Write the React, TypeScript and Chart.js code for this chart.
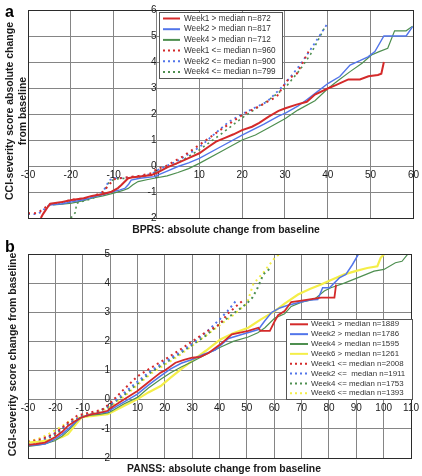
import React, { useEffect, useRef } from "react";
import { Chart, registerables } from "chart.js";

Chart.register(...registerables);

const FONT = "'Liberation Sans', Arial, Helvetica, sans-serif";

// ---------- Panel a (BPRS) ----------
const aXTicks = [-30, -20, -10, 0, 10, 20, 30, 40, 50, 60];
const aYTicks = [-2, -1, 0, 1, 2, 3, 4, 5, 6];

const aLabels = [
  "Week1 > median n=872",
  "Week2 > median n=817",
  "Week4 > median n=712",
  "Week1 <= median n=960",
  "Week2 <= median n=900",
  "Week4 <= median n=799",
];

const aW1GtX = [-27, -26.5, -25.5, -24.8, -22, -19.8, -17, -15.1, -12.5, -10.5, -9, -8.2, -6.6, -5.5, -4.3, -1.2, 0, 2.5, 5, 7.5, 10, 12, 13.9, 16, 18, 20, 22.3, 24, 26.2, 28.5, 30.1, 32.5, 35.1, 37, 40.1, 42, 44.8, 47.5, 49.5, 51.7, 52.5, 53.1];
const aW1GtY = [-2, -1.85, -1.6, -1.45, -1.38, -1.31, -1.24, -1.15, -1.08, -0.99, -0.85, -0.73, -0.47, -0.43, -0.41, -0.35, -0.27, -0.05, 0.12, 0.3, 0.49, 0.72, 0.94, 1.08, 1.22, 1.38, 1.51, 1.66, 1.9, 2.12, 2.22, 2.35, 2.47, 2.75, 2.99, 3.12, 3.33, 3.33, 3.45, 3.5, 3.55, 4.0];

const aW2GtX = [-25.2, -22, -19.8, -17, -14.4, -12, -10.3, -8.5, -7.4, -6.5, -5.9, -3.9, -0.5, 0, 2.5, 5, 7.5, 10, 15, 20, 25, 28.5, 30.1, 33, 35, 37.5, 40.1, 42.8, 45.2, 47.5, 49.4, 51, 53.1, 58.3, 59.8];
const aW2GtY = [-1.5, -1.45, -1.38, -1.3, -1.18, -1.08, -0.99, -0.92, -0.86, -0.7, -0.54, -0.47, -0.41, -0.37, -0.2, -0.02, 0.12, 0.29, 0.74, 1.19, 1.6, 1.92, 2.03, 2.3, 2.54, 2.85, 3.18, 3.44, 3.88, 4.05, 4.2, 4.4, 5.0, 5.0, 5.36];

const aW4GtX = [-24.1, -22, -19.8, -17, -15.1, -12.5, -10.2, -8, -6.6, -5.5, -4.3, -2, -0.5, 2.5, 5, 7.5, 10, 15, 20, 23.1, 26, 30.1, 33, 37, 40.1, 42.5, 45.2, 48, 50.2, 52, 54, 55.6, 58.3, 59.8];
const aW4GtY = [-1.5, -1.47, -1.43, -1.33, -1.24, -1.15, -1.05, -0.95, -0.86, -0.72, -0.6, -0.52, -0.47, -0.38, -0.25, -0.1, 0.1, 0.55, 1.0, 1.19, 1.45, 1.83, 2.15, 2.51, 2.99, 3.3, 3.63, 3.95, 4.27, 4.4, 4.53, 5.2, 5.2, 5.38];

const aW1LeX = [-30, -28.5, -27.5, -26, -25, -22, -20, -17, -15, -12.4, -11, -9.7, -7.5, -4, -1.2, 0, 2.25, 6.1, 10, 14.6, 20, 24, 28.1, 29.3, 30.9, 32.8, 35.5];
const aW1LeY = [-1.82, -1.82, -1.78, -1.6, -1.48, -1.4, -1.3, -1.25, -1.18, -0.99, -0.7, -0.5, -0.45, -0.38, -0.28, -0.12, 0, 0.36, 0.81, 1.35, 1.96, 2.3, 2.67, 2.99, 3.37, 3.56, 4.4];

const aW2LeX = [-30, -28.5, -27, -25.5, -24, -20, -15, -12.5, -11, -9.7, -7, -4, -1, 0, 5, 10, 14.6, 16.9, 20, 21.2, 25.8, 29.7, 33.2, 35.9, 39.7];
const aW2LeY = [-1.85, -1.85, -1.78, -1.55, -1.47, -1.35, -1.2, -1.0, -0.54, -0.47, -0.45, -0.4, -0.3, -0.18, 0.2, 0.72, 1.38, 1.7, 2.0, 2.1, 2.47, 3.1, 3.82, 4.46, 5.42];

const aW4LeX = [-20, -19, -18.6, -17, -15, -12.5, -11, -9.7, -7, -4, -1, 0, 5, 10, 15, 20, 25, 30, 33.5, 36, 39.2];
const aW4LeY = [-2, -1.8, -1.43, -1.35, -1.25, -1.05, -0.6, -0.5, -0.47, -0.42, -0.33, -0.22, 0.12, 0.62, 1.22, 1.85, 2.4, 3.0, 3.7, 4.3, 5.3];

// ---------- Panel b (PANSS) ----------
const bXTicks = [-30, -20, -10, 0, 10, 20, 30, 40, 50, 60, 70, 80, 90, 100, 110];
const bYTicks = [-2, -1, 0, 1, 2, 3, 4, 5];

const bLabels = [
  "Week1 > median n=1889",
  "Week2 > median n=1786",
  "Week4 > median n=1595",
  "Week6 > median n=1261",
  "Week1 <= median n=2008",
  "Week2 <=  median n=1911",
  "Week4 <= median n=1753",
  "Week6 <= median n=1393",
];

const bW1GtX = [-30, -27, -23.8, -20.2, -17.5, -15.4, -13, -10.5, -7, -4, -0.9, 0, 2.5, 5.2, 10, 14, 16.7, 18.5, 20, 23.9, 27, 30, 33, 36, 40.3, 44.5, 47.5, 50.5, 54.2, 55, 58.4, 60.2, 61.4, 63.8, 66.2, 70, 73.5, 77.1, 82, 82.6];
const bW1GtY = [-1.55, -1.52, -1.47, -1.29, -1.1, -0.9, -0.75, -0.61, -0.5, -0.45, -0.38, -0.3, -0.15, 0.02, 0.3, 0.6, 0.8, 0.93, 1.0, 1.27, 1.37, 1.44, 1.47, 1.6, 1.9, 2.24, 2.3, 2.36, 2.47, 2.36, 2.36, 2.7, 2.9, 3.04, 3.35, 3.4, 3.45, 3.5, 3.5, 3.95];

const bW2GtX = [-30, -27, -23.8, -20.2, -17.5, -15.4, -13, -10.5, -7, -4, -0.9, 0, 5, 10, 14, 18.5, 22, 26, 30, 34, 38.4, 43.3, 48.1, 54.2, 56.5, 59, 62, 65, 69.8, 73, 75.9, 77.7, 80.2, 83.8, 86.2, 88.6, 91];
const bW2GtY = [-1.57, -1.55, -1.52, -1.35, -1.18, -1.01, -0.8, -0.61, -0.5, -0.46, -0.42, -0.36, -0.08, 0.19, 0.5, 0.82, 1.05, 1.25, 1.38, 1.55, 1.7, 2.1, 2.24, 2.41, 2.7, 2.99, 3.15, 3.24, 3.35, 3.42, 3.44, 3.84, 3.84, 4.18, 4.3, 4.64, 5.03];

const bW4GtX = [-30, -27, -23.8, -20.2, -17.5, -15.4, -13, -11.1, -7, -4, -0.9, 0, 5, 10, 14, 18.5, 22, 26, 30, 35, 40.3, 45, 50.5, 54, 56.6, 60.2, 63.8, 66.2, 70, 74.7, 78.3, 80.7, 85.6, 90.4, 96.5, 100.1, 104.3, 106.7, 109.2];
const bW4GtY = [-1.6, -1.57, -1.52, -1.41, -1.25, -1.07, -0.83, -0.61, -0.53, -0.5, -0.45, -0.42, -0.15, 0.08, 0.4, 0.7, 0.92, 1.12, 1.3, 1.55, 1.8, 2.0, 2.15, 2.3, 2.47, 2.8, 2.95, 3.2, 3.35, 3.45, 3.73, 3.84, 4.0, 4.18, 4.41, 4.47, 4.7, 4.75, 5.04];

const bW6GtX = [-30, -27, -23.8, -20.2, -17.5, -15.4, -13, -10.5, -7, -4, -0.9, 0, 5.2, 10, 14, 18.5, 22, 26, 30, 35, 40.3, 45, 50.5, 55, 60.2, 63.8, 68.7, 73, 77.1, 81, 85.6, 90, 94, 97.7, 98.9, 100.7];
const bW6GtY = [-1.47, -1.45, -1.41, -1.36, -1.28, -1.18, -0.9, -0.61, -0.56, -0.53, -0.5, -0.46, -0.21, 0.02, 0.25, 0.47, 0.75, 1.05, 1.33, 1.68, 2.07, 2.28, 2.47, 2.75, 3.04, 3.3, 3.61, 3.8, 3.95, 4.12, 4.3, 4.42, 4.52, 4.58, 4.87, 5.04];

const bW1LeX = [-30, -25, -20, -15, -12, -8, -3, 0, 5, 10, 15, 20, 25, 30, 35, 40, 43, 46, 48.5];
const bW1LeY = [-1.45, -1.35, -1.15, -0.75, -0.55, -0.45, -0.35, -0.12, 0.35, 0.8, 1.1, 1.38, 1.68, 2.0, 2.32, 2.58, 2.95, 3.2, 3.4];

const bW2LeX = [-30, -25, -20, -15, -10, -5, 0, 5, 10, 15, 20, 25, 30, 35, 40, 43, 46.5];
const bW2LeY = [-1.5, -1.4, -1.15, -0.8, -0.55, -0.45, -0.18, 0.22, 0.62, 1.0, 1.3, 1.6, 1.92, 2.3, 2.75, 3.05, 3.45];

const bW4LeX = [-30, -25, -20, -15, -10, -5, 0, 5, 10, 15, 20, 25, 30, 35, 40, 45, 50, 52, 54, 56, 59];
const bW4LeY = [-1.5, -1.42, -1.2, -0.82, -0.55, -0.45, -0.2, 0.15, 0.55, 0.95, 1.25, 1.55, 1.88, 2.2, 2.6, 2.95, 3.3, 3.5, 3.85, 4.3, 4.55];

const bW6LeX = [-30, -25, -20, -15, -10, -5, 0, 5, 10, 15, 20, 25, 30, 35, 40, 45, 50, 52.4, 56, 60.2, 62];
const bW6LeY = [-1.45, -1.3, -1.05, -0.75, -0.55, -0.45, -0.25, 0.1, 0.5, 0.9, 1.2, 1.5, 1.85, 2.2, 2.55, 2.9, 3.3, 3.98, 4.36, 4.87, 5.0];

// ---------- styles ----------
const RED = "#d42a2a";
const BLUE = "#5275ea";
const GREEN = "#4e8f50";
const YELLOW = "#f4ee48";

const zip = (xs: number[], ys: number[]) => xs.map((x, i) => ({ x, y: ys[i] }));

function ds(label: string, xs: number[], ys: number[], color: string, width: number, dash: number[]) {
  return {
    label,
    data: zip(xs, ys),
    borderColor: color,
    backgroundColor: color,
    borderWidth: width,
    borderDash: dash,
    pointRadius: 0,
    pointHoverRadius: 0,
    tension: 0,
    fill: false,
  };
}

type Overlay = {
  letter: string;
  letterY: number;
  xTitle: string;
  xTitleX: number;
  xTitleY: number;
  yTitle: string[];
  yTitleXs: number[];
  yTitleY: number;
  legend: { x: number; y: number; w: number; h: number; row0: number; rowH: number; sx0: number; sx1: number; tx: number; font: number };
};

function overlayPlugin(o: Overlay) {
  return {
    id: "overlay",
    afterDraw(chart: any) {
      const ctx = chart.ctx as CanvasRenderingContext2D;
      const ca = chart.chartArea;
      ctx.save();
      // frame
      ctx.strokeStyle = "#2b2b2b";
      ctx.lineWidth = 1;
      ctx.setLineDash([]);
      ctx.strokeRect(Math.round(ca.left) + 0.5, Math.round(ca.top) + 0.5, Math.round(ca.right - ca.left), Math.round(ca.bottom - ca.top));

      // legend
      const L = o.legend;
      ctx.fillStyle = "#ffffff";
      ctx.fillRect(L.x, L.y, L.w, L.h);
      ctx.strokeStyle = "#555";
      ctx.lineWidth = 1;
      ctx.strokeRect(L.x + 0.5, L.y + 0.5, L.w, L.h);
      ctx.font = `${L.font}px ${FONT}`;
      ctx.textBaseline = "middle";
      ctx.textAlign = "left";
      chart.data.datasets.forEach((d: any, i: number) => {
        const y = L.row0 + i * L.rowH;
        ctx.strokeStyle = d.borderColor;
        ctx.lineWidth = 2;
        ctx.setLineDash(d.borderDash && d.borderDash.length ? [2, 3] : []);
        ctx.beginPath();
        ctx.moveTo(L.sx0, y);
        ctx.lineTo(L.sx1, y);
        ctx.stroke();
        ctx.setLineDash([]);
        ctx.fillStyle = "#333";
        ctx.fillText(d.label, L.tx, y);
      });

      // axis titles
      ctx.fillStyle = "#1a1a1a";
      ctx.textAlign = "center";
      ctx.textBaseline = "middle";
      ctx.font = `bold 10.4px ${FONT}`;
      ctx.fillText(o.xTitle, o.xTitleX, o.xTitleY);
      ctx.font = `bold 10.5px ${FONT}`;
      o.yTitle.forEach((t, i) => {
        ctx.save();
        ctx.translate(o.yTitleXs[i], o.yTitleY);
        ctx.rotate(-Math.PI / 2);
        ctx.fillText(t, 0, 0);
        ctx.restore();
      });

      // panel letter
      ctx.font = `bold 16px ${FONT}`;
      ctx.textAlign = "left";
      ctx.textBaseline = "alphabetic";
      ctx.fillStyle = "#000";
      ctx.fillText(o.letter, 5, o.letterY);
      ctx.restore();
    },
  };
}

function makeScales(xMin: number, xMax: number, yMin: number, yMax: number, xTicks: number[], yTicks: number[]) {
  const grid = { color: "#858585", lineWidth: 1, drawTicks: false };
  const ticks = { font: { size: 10, family: FONT }, color: "#1a1a1a", autoSkip: false, maxRotation: 0 };
  return {
    x: {
      type: "linear",
      min: xMin,
      max: xMax,
      position: { y: 0 },
      grid,
      border: { display: false },
      ticks: { ...ticks, padding: 3 },
      afterBuildTicks: (s: any) => {
        s.ticks = xTicks.map((v) => ({ value: v }));
      },
    },
    y: {
      type: "linear",
      min: yMin,
      max: yMax,
      position: { x: 0 },
      grid,
      border: { display: false },
      ticks: { ...ticks, padding: 4 },
      afterBuildTicks: (s: any) => {
        s.ticks = yTicks.map((v) => ({ value: v }));
      },
    },
  };
}

function useChart(ref: React.RefObject<HTMLCanvasElement>, build: () => any) {
  useEffect(() => {
    if (!ref.current) return;
    const chart = new Chart(ref.current, build());
    return () => chart.destroy();
  }, []);
}

export default function App() {
  const refA = useRef<HTMLCanvasElement>(null);
  const refB = useRef<HTMLCanvasElement>(null);

  useChart(refA, () => ({
    type: "line",
    data: {
      datasets: [
        ds(aLabels[0], aW1GtX, aW1GtY, RED, 2, []),
        ds(aLabels[1], aW2GtX, aW2GtY, BLUE, 1.4, []),
        ds(aLabels[2], aW4GtX, aW4GtY, GREEN, 1.2, []),
        ds(aLabels[3], aW1LeX, aW1LeY, RED, 2, [2, 4]),
        ds(aLabels[4], aW2LeX, aW2LeY, BLUE, 1.8, [2, 3.5]),
        ds(aLabels[5], aW4LeX, aW4LeY, GREEN, 1.6, [2, 3.5]),
      ],
    },
    options: {
      animation: false,
      responsive: false,
      devicePixelRatio: 1,
      layout: { padding: { left: 28, right: 5, top: 10, bottom: 18 } },
      plugins: { legend: { display: false }, tooltip: { enabled: false } },
      scales: makeScales(-30, 60, -2, 6, aXTicks, aYTicks),
    },
    plugins: [
      overlayPlugin({
        letter: "a",
        letterY: 17,
        xTitle: "BPRS: absolute change from baseline",
        xTitleX: 226,
        xTitleY: 230,
        yTitle: ["CCI-severity score absolute change", "from baseline"],
        yTitleXs: [10, 23],
        yTitleY: 111,
        legend: { x: 159, y: 12, w: 123, h: 66, row0: 18.5, rowH: 10.7, sx0: 163, sx1: 180, tx: 184, font: 8.2 },
      }),
    ],
  }));

  useChart(refB, () => ({
    type: "line",
    data: {
      datasets: [
        ds(bLabels[0], bW1GtX, bW1GtY, RED, 1.8, []),
        ds(bLabels[1], bW2GtX, bW2GtY, BLUE, 1.5, []),
        ds(bLabels[2], bW4GtX, bW4GtY, GREEN, 1.2, []),
        ds(bLabels[3], bW6GtX, bW6GtY, YELLOW, 2.2, []),
        ds(bLabels[4], bW1LeX, bW1LeY, RED, 2, [2, 3.5]),
        ds(bLabels[5], bW2LeX, bW2LeY, BLUE, 2, [2, 3.5]),
        ds(bLabels[6], bW4LeX, bW4LeY, GREEN, 2, [2, 3.5]),
        ds(bLabels[7], bW6LeX, bW6LeY, YELLOW, 2, [2, 3.5]),
      ],
    },
    options: {
      animation: false,
      responsive: false,
      devicePixelRatio: 1,
      layout: { padding: { left: 28, right: 8, top: 18, bottom: 18 } },
      plugins: { legend: { display: false }, tooltip: { enabled: false } },
      scales: makeScales(-30, 110, -2, 5, bXTicks, bYTicks),
    },
    plugins: [
      overlayPlugin({
        letter: "b",
        letterY: 16,
        xTitle: "PANSS: absolute change from baseline",
        xTitleX: 224,
        xTitleY: 233,
        yTitle: ["CGI-severity score change from baseline"],
        yTitleXs: [13],
        yTitleY: 118.5,
        legend: { x: 286, y: 83, w: 126, h: 80, row0: 88.3, rowH: 9.85, sx0: 290, sx1: 308, tx: 311, font: 7.9 },
      }),
    ],
  }));

  return (
    <div style={{ position: "absolute", left: 0, top: 0, width: 422, height: 476, background: "#fff" }}>
      <canvas ref={refA} width={422} height={236} style={{ position: "absolute", left: 0, top: 0, width: 422, height: 236 }} />
      <canvas ref={refB} width={422} height={240} style={{ position: "absolute", left: 0, top: 236, width: 422, height: 240 }} />
    </div>
  );
}
